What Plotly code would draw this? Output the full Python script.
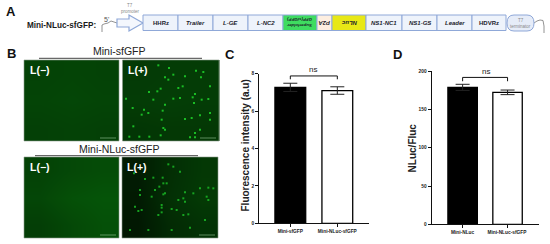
import plotly.graph_objects as go

W, H = 550, 244

# bar chart values
c_categories = ["Mini-sfGFP", "Mini-NLuc-sfGFP"]
c_values = [7.27, 7.10]
c_errors = [0.22, 0.20]
c_ticks = [0, 2, 4, 6, 8]

d_categories = ["Mini-NLuc", "Mini-NLuc-sfGFP "]
d_values = [179, 172.5]
d_errors = [4, 3]
d_ticks = [0, 50, 100, 150, 200]

# schematic
gene_labels = ["HHRz", "Trailer", "L-GE", "L-NC2", "Superfolder<br>GFP(sfGFP)", "P2A", "NLuc",
               "NS1-NC1", "NS1-GS", "Leader", "HDVRz"]
gene_edges = [143, 178, 213, 248, 283, 317, 332, 366, 402, 437, 472, 506]
gene_fills = ["#eef3fb", "#eef3fb", "#eef3fb", "#eef3fb", "#3fdc60", "#fdeee0", "#e8e816",
              "#eef3fb", "#eef3fb", "#eef3fb", "#eef3fb"]
gene_flipped = [False, False, False, False, True, True, True, False, False, False, False]
gene_italic = [False, True, True, True, True, True, True, True, True, True, False]

# green background brightness of the micrographs, coarse 3x3 grids
micro_tl = [[66, 68, 66], [68, 70, 68], [64, 66, 64]]
micro_tr = [[58, 60, 60], [60, 62, 60], [54, 56, 56]]
micro_bl = [[66, 72, 76], [70, 80, 84], [62, 72, 80]]
micro_br = [[28, 46, 56], [26, 48, 58], [24, 42, 50]]

# bright cells, pixels inside the zoomed L(+) micrographs (zoom x3)
top_cell_x = [115, 147, 250, 228, 160, 135, 145, 195, 243, 175, 188, 122, 112, 87, 225, 218, 270, 18, 160, 245,
              135, 222, 72, 128, 85, 65, 38, 270, 240, 195, 215, 125, 270, 130, 135, 122, 88, 58, 28, 210, 225,
              240, 225, 40, 180, 265, 100]
top_cell_y = [22, 30, 42, 38, 50, 58, 65, 55, 58, 90, 85, 92, 100, 102, 108, 118, 85, 122, 122, 125,
              140, 135, 155, 158, 165, 170, 150, 165, 172, 183, 180, 185, 185, 210, 215, 232, 236, 236, 236, 238, 238,
              215, 225, 205, 120, 123, 125]
bottom_cell_x = [42, 75, 100, 128, 145, 160, 130, 180, 118, 105, 140, 60, 135, 130, 195, 240, 265, 280, 190, 220,
                 260, 265, 175, 195, 95, 60, 125, 45, 55, 65, 155, 170, 125, 115, 190, 205, 255, 210, 155, 85, 30, 125]
bottom_cell_y = [55, 72, 68, 68, 28, 35, 85, 50, 95, 105, 85, 105, 115, 118, 112, 100, 98, 100, 130, 115,
                 125, 135, 135, 140, 125, 120, 150, 155, 168, 165, 162, 165, 172, 180, 180, 178, 195, 218, 225, 225, 225, 158]

GRID = "#8fa8d8"
INK = "#222222"
PANEL_FONT = "Liberation Sans"


def px_x(x):
    return x / W


def px_y(y):
    return 1 - y / H


fig = go.Figure()
shapes = []
notes = []


def note(x, y, text, size, color=INK, angle=0, xanchor="center"):
    notes.append(dict(x=x, y=y, xref="x3", yref="y3", text=text, showarrow=False, textangle=angle,
                      xanchor=xanchor, yanchor="middle", align="center",
                      font=dict(family=PANEL_FONT, size=size, color=color)))


def line(xs, ys, color, width):
    fig.add_trace(go.Scatter(x=xs, y=ys, xaxis="x3", yaxis="y3", mode="lines", hoverinfo="skip", showlegend=False,
                             line=dict(color=color, width=width)))


def cell_centers(a, b):
    # heatmap coordinates are cell centres, so inset them to keep the outer edges on the panel
    step = (b - a) / 3
    return [a + step / 2, a + 1.5 * step, a + 2.5 * step]


# --- micrographs ---
micro_colorscale = [[0, "#000000"], [1, "#10ff18"]]
panels = [(micro_tl, 24, 119, 60, 141), (micro_tr, 122.5, 219, 60, 141),
          (micro_bl, 24, 119, 157, 238), (micro_br, 122, 218, 157, 238)]
for grid, x0, x1, y0, y1 in panels:
    fig.add_trace(go.Heatmap(z=grid, x=cell_centers(x0, x1), y=cell_centers(y0, y1), xaxis="x3", yaxis="y3",
                             zmin=0, zmax=255, colorscale=micro_colorscale, showscale=False, zsmooth="best",
                             hoverinfo="skip"))
    shapes.append(dict(type="rect", xref="x3", yref="y3", x0=x0, x1=x1, y0=y0, y1=y1,
                       line=dict(color="#8a9a8a", width=0.6)))
    line([x1 - 19, x1 - 3], [y1 - 3, y1 - 3], "#9cc89c", 0.6)

fig.add_trace(go.Scatter(x=[120 + v / 3 for v in top_cell_x], y=[58 + v / 3 for v in top_cell_y], xaxis="x3",
                         yaxis="y3", mode="markers", hoverinfo="skip", showlegend=False,
                         marker=dict(symbol="square", size=2, color="#1fd42c", opacity=0.85, line=dict(width=0))))
fig.add_trace(go.Scatter(x=[120 + v / 3 for v in bottom_cell_x], y=[155 + v / 3 for v in bottom_cell_y], xaxis="x3",
                         yaxis="y3", mode="markers", hoverinfo="skip", showlegend=False,
                         marker=dict(symbol="square", size=2, color="#1cc028", opacity=0.8, line=dict(width=0))))

for x, y, text in [(40, 70, "L(−)"), (138, 70, "L(+)"), (40, 167, "L(−)"), (137, 167, "L(+)")]:
    note(x, y, f"<b>{text}</b>", 10.5, "#ffffff")

note(119, 51, "Mini-sfGFP", 10.5)
note(119, 149, "Mini-NLuc-sfGFP", 10.5)
line([39, 202], [58.3, 58.3], "#444444", 1)
line([35, 198], [155.7, 155.7], "#444444", 1)

# --- panel letters ---
for x, y, text in [(11, 11, "A"), (11, 53, "B"), (230, 54, "C"), (397, 54, "D")]:
    note(x, y, f"<b>{text}</b>", 13, "#111111")

# --- construct schematic ---
note(61, 25, "<b>Mini-NLuc-sfGFP:</b>", 8.2, "#1a1a1a")
note(106, 19, "5'", 7, "#555555")
note(130, 5, "T7", 4.5, "#888888")
note(130, 11.5, "promoter", 4.5, "#888888")
line([102, 102, 104, 108, 111, 114, 117], [32, 25, 24, 23, 21, 22, 23], "#777777", 0.8)
shapes.append(dict(type="path", path="M 117 19 L 129 19 L 129 15 L 143 23 L 129 31 L 129 27 L 117 27 Z",
                   xref="x3", yref="y3", fillcolor="#f4f7fd", line=dict(color=GRID, width=1.2)))

for i, label in enumerate(gene_labels):
    shapes.append(dict(type="rect", xref="x3", yref="y3", x0=gene_edges[i], x1=gene_edges[i + 1], y0=15, y1=30.5,
                       fillcolor=gene_fills[i], line=dict(color=GRID, width=1)))
    text = f"<b>{label}</b>"
    if gene_italic[i]:
        text = f"<i>{text}</i>"
    size = 4.4 if "<br>" in label else 6
    note((gene_edges[i] + gene_edges[i + 1]) / 2, 23, text, size, "#1c1c2c", 180 if gene_flipped[i] else 0)

# terminator is a rounded capsule
shapes.append(dict(type="path", xref="x3", yref="y3", fillcolor="#e6ecf8", line=dict(color=GRID, width=1),
                   path="M 514 15 L 527 15 Q 534 15 534 23 Q 534 31 527 31 L 514 31 Q 507 31 507 23 Q 507 15 514 15 Z"))
note(520.5, 20, "T7", 4.5, "#888888")
note(520.5, 26.5, "terminator", 4.5, "#888888")
line([534, 537, 540, 543, 544, 544], [23, 21, 20, 20.5, 26, 33], "#777777", 0.8)

# --- bar charts ---
bar_panels = [
    dict(cats=c_categories, vals=c_values, errs=c_errors, ticks=c_ticks, top=8, x="x", y="y",
         bracket=[7.7, 7.88, 7.88, 7.7], xdom=(259.3, 369), ydom=(223.3, 73.7), xr=(-0.66, 1.674)),
    dict(cats=d_categories, vals=d_values, errs=d_errors, ticks=d_ticks, top=200, x="x2", y="y2",
         bracket=[187, 192, 192, 187], xdom=(431.7, 539), ydom=(224.3, 71.3), xr=(-0.688, 1.7)),
]
layout_axes = {}
for p in bar_panels:
    fig.add_trace(go.Bar(x=p["cats"], y=p["vals"], xaxis=p["x"], yaxis=p["y"], width=0.655, showlegend=False,
                         marker=dict(color=["#000000", "#ffffff"], line=dict(color="#000000", width=1.3)),
                         error_y=dict(type="data", array=p["errs"], color="#222222", thickness=1, width=7)))
    fig.add_trace(go.Scatter(x=[p["cats"][0], p["cats"][0], p["cats"][1], p["cats"][1]], y=p["bracket"],
                             xaxis=p["x"], yaxis=p["y"], mode="lines", showlegend=False, cliponaxis=False,
                             hoverinfo="skip", line=dict(color="#111111", width=1)))
    suffix = p["x"][1:]
    tick_font = dict(family=PANEL_FONT, size=4.8, color="#222222", weight="bold")
    layout_axes[f"xaxis{suffix}"] = dict(domain=[px_x(p["xdom"][0]), px_x(p["xdom"][1])], range=list(p["xr"]),
                                         type="category", anchor=p["y"], showgrid=False, showline=True,
                                         linecolor="#111111", linewidth=1.3, ticks="outside", ticklen=2.5,
                                         tickwidth=1, tickcolor="#111111", tickfont=tick_font, tickangle=0,
                                         automargin=False)
    layout_axes[f"yaxis{suffix}"] = dict(domain=[px_y(p["ydom"][0]), px_y(p["ydom"][1])], range=[0, p["top"]],
                                         anchor=p["x"], showgrid=False, zeroline=False, showline=True,
                                         linecolor="#111111", linewidth=1.3, ticks="outside", ticklen=3,
                                         tickwidth=1, tickcolor="#111111", tickvals=p["ticks"], tickfont=tick_font,
                                         automargin=False)

note(245, 145.5, "<b>Fluorescence intensity (a.u)</b>", 10, "#222222", -90)
note(412.7, 147.7, "<b>NLuc/Fluc</b>", 10, "#222222", -90)
note(313, 69.7, "ns", 8, "#222222")
note(486, 71.6, "ns", 8, "#222222")

fig.update_layout(
    width=W, height=H, margin=dict(l=0, r=0, t=0, b=0), paper_bgcolor="white", plot_bgcolor="rgba(0,0,0,0)",
    showlegend=False, bargap=0.35, shapes=shapes, annotations=notes,
    xaxis3=dict(domain=[0, 1], range=[0, W], visible=False, anchor="y3", fixedrange=True),
    yaxis3=dict(domain=[0, 1], range=[H, 0], visible=False, anchor="x3", fixedrange=True),
    **layout_axes,
)

fig.write_html("out.html", config=dict(displayModeBar=False), post_script="document.body.style.margin='0';")
